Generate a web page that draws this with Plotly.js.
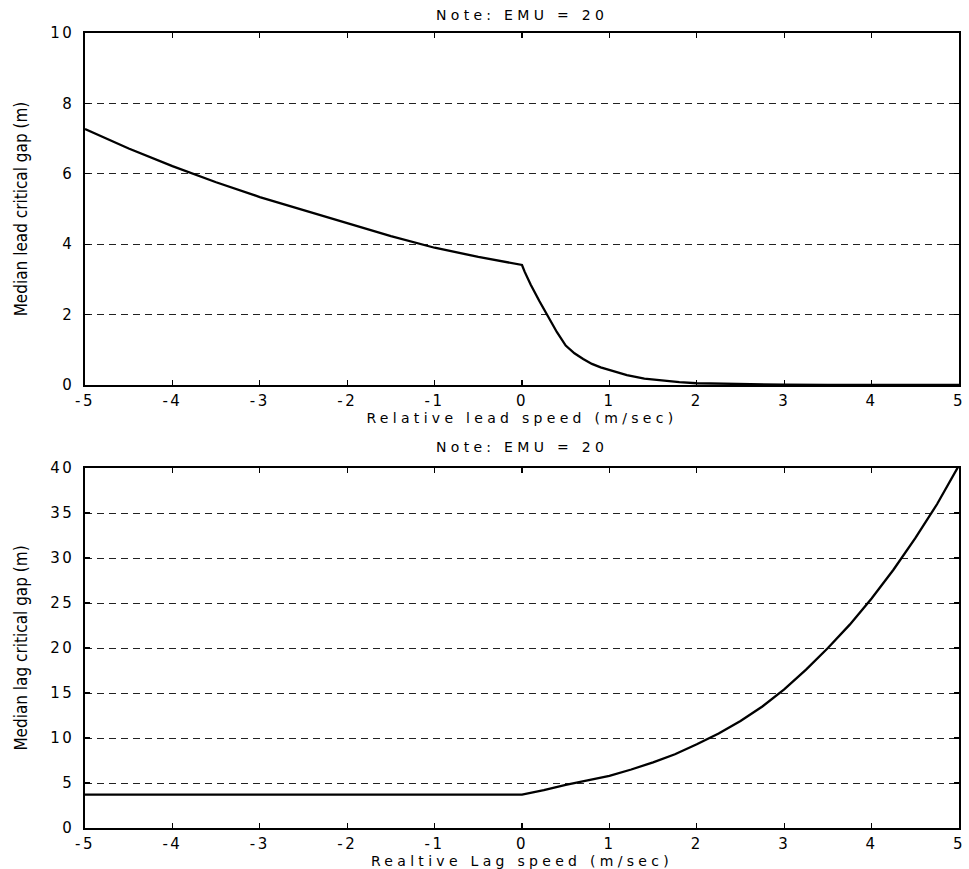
<!DOCTYPE html>
<html>
<head>
<meta charset="utf-8">
<script src="https://cdn.plot.ly/plotly-3.0.1.min.js"></script>
<style>
  html, body { margin: 0; padding: 0; background: #fff; }
  #chart { width: 969px; height: 869px; }
  .annotation-text, .xtitle, .x2title { letter-spacing: 4.3px; }
  .xtick text, .x2tick text, .ytick text, .y2tick text { letter-spacing: 2.5px; }
</style>
</head>
<body>
<div id="chart"></div>
<script>
// ---- data ----
const noteText = "Note: EMU = 20";

const leadX = [-5, -4.5, -4, -3.5, -3, -2.5, -2, -1.5, -1, -0.5, 0, 0.03, 0.1, 0.2, 0.3, 0.4, 0.5, 0.6, 0.7, 0.8, 0.9, 1.0, 1.2, 1.4, 1.6, 1.8, 2.0, 2.5, 3, 3.5, 4, 4.5, 5];
const leadY = [7.27, 6.72, 6.22, 5.76, 5.34, 4.96, 4.6, 4.23, 3.9, 3.64, 3.41, 3.22, 2.85, 2.38, 1.92, 1.5, 1.12, 0.9, 0.74, 0.6, 0.5, 0.42, 0.28, 0.18, 0.12, 0.08, 0.05, 0.02, 0.01, 0.005, 0.003, 0.002, 0.001];

const lagX = [-5, -4, -3, -2, -1, 0, 0.25, 0.5, 0.75, 1, 1.25, 1.5, 1.75, 2, 2.25, 2.5, 2.75, 3, 3.25, 3.5, 3.75, 4, 4.25, 4.5, 4.75, 5];
const lagY = [3.7, 3.7, 3.7, 3.7, 3.7, 3.7, 4.2, 4.8, 5.3, 5.8, 6.5, 7.3, 8.2, 9.3, 10.5, 11.9, 13.5, 15.4, 17.6, 20.0, 22.6, 25.5, 28.7, 32.2, 36.0, 40.3];

const xTickVals = [-5, -4, -3, -2, -1, 0, 1, 2, 3, 4, 5];
const xTickText = ["-5", "-4", "-3", "-2", "-1", "0", "1", "2", "3", "4", "5"];
const leadTickVals = [0, 2, 4, 6, 8, 10];
const lagTickVals = [0, 5, 10, 15, 20, 25, 30, 35, 40];

const topXTitle = "Relative lead speed (m/sec)";
const botXTitle = "Realtive Lag speed (m/sec)";
const topYTitle = "Median lead critical gap (m)";
const botYTitle = "Median lag critical gap (m)";

// ---- styling ----
const tickFont = { family: "DejaVu Sans, Arial, sans-serif", size: 15, color: "#000" };
const titleFont = { family: "DejaVu Sans, Arial, sans-serif", size: 14, color: "#000" };
const yTitleFont = { family: "Liberation Sans Narrow, DejaVu Sans Condensed, Arial Narrow, sans-serif", size: 17, color: "#000" };

function xAxis(domainAnchor, title) {
  return {
    anchor: domainAnchor,
    range: [-5, 5],
    tickmode: "array", tickvals: xTickVals, ticktext: xTickText,
    ticks: "inside", ticklen: 5, tickwidth: 1.2, tickcolor: "#000",
    showline: true, linecolor: "#000", linewidth: 1.6, mirror: "ticks",
    showgrid: false, zeroline: false,
    tickfont: tickFont,
    ticklabelstandoff: 1,
    title: { text: title, font: titleFont, standoff: 3 }
  };
}
function yAxis(domain, anchor, range, vals, title) {
  return {
    domain: domain, anchor: anchor,
    range: range,
    tickmode: "array", tickvals: vals,
    ticks: "inside", ticklen: 5, tickwidth: 1.2, tickcolor: "#000",
    showline: true, linecolor: "#000", linewidth: 1.6, mirror: "ticks",
    showgrid: true, gridcolor: "#222", gridwidth: 1, griddash: "7px,5px",
    zeroline: false,
    tickfont: tickFont,
    ticklabelstandoff: 6,
    title: { text: title, font: yTitleFont, standoff: 18 }
  };
}

const traces = [
  { x: leadX, y: leadY, xaxis: "x", yaxis: "y", type: "scatter", mode: "lines",
    line: { color: "#000", width: 2.3 }, hoverinfo: "x+y" },
  { x: lagX, y: lagY, xaxis: "x2", yaxis: "y2", type: "scatter", mode: "lines",
    line: { color: "#000", width: 2.3 }, hoverinfo: "x+y" }
];

const layout = {
  width: 969, height: 869,
  margin: { l: 85, r: 10, t: 33, b: 41 },
  paper_bgcolor: "#fff", plot_bgcolor: "#fff",
  showlegend: false,
  xaxis: Object.assign(xAxis("y", topXTitle), { domain: [0, 1] }),
  yaxis: yAxis([0.5572, 1], "x", [0, 10], leadTickVals, topYTitle),
  xaxis2: Object.assign(xAxis("y2", botXTitle), { domain: [0, 1] }),
  yaxis2: yAxis([0, 0.4528], "x2", [0, 40], lagTickVals, botYTitle),
  annotations: [
    { text: noteText, xref: "paper", yref: "paper", x: 0.5, y: 1.0226,
      xanchor: "center", yanchor: "middle", showarrow: false, font: titleFont },
    { text: noteText, xref: "paper", yref: "paper", x: 0.5, y: 0.4792,
      xanchor: "center", yanchor: "middle", showarrow: false, font: titleFont }
  ]
};

Plotly.newPlot("chart", traces, layout, { displayModeBar: false, staticPlot: true });
</script>
</body>
</html>
